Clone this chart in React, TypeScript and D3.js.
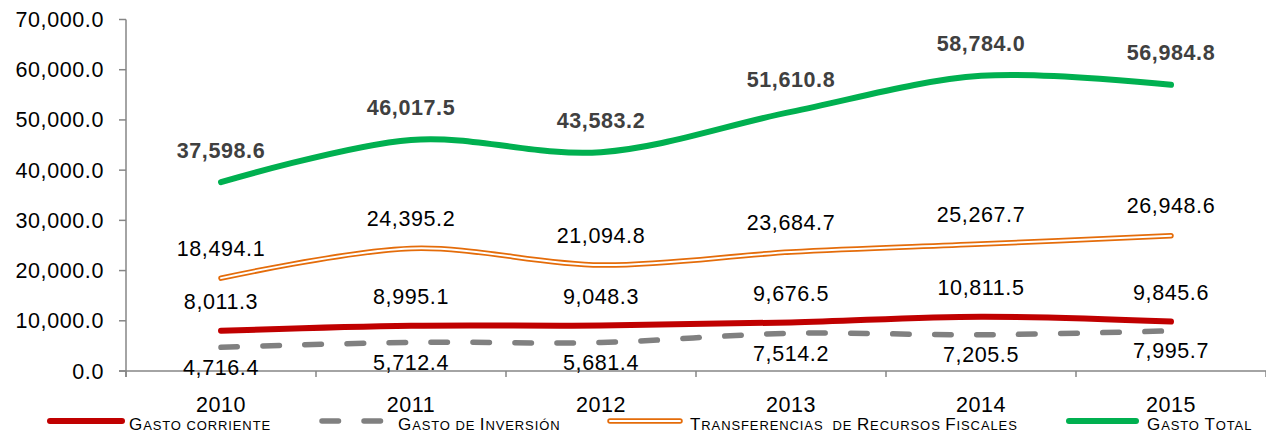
import React from 'react';
import * as d3 from 'd3';

const years = ['2010', '2011', '2012', '2013', '2014', '2015'];
const gastoCorriente = [8011.3, 8995.1, 9048.3, 9676.5, 10811.5, 9845.6];
const gastoInversion = [4716.4, 5712.4, 5681.4, 7514.2, 7205.5, 7995.7];
const transferencias = [18494.1, 24395.2, 21094.8, 23684.7, 25267.7, 26948.6];
const gastoTotal = [37598.6, 46017.5, 43583.2, 51610.8, 58784.0, 56984.8];
const yTicks = [0, 10000, 20000, 30000, 40000, 50000, 60000, 70000];

const W = 1266, H = 435;
const FONT = '"Liberation Sans", Arial, sans-serif';
const AXIS = '#868686';

const x = d3.scaleBand().domain(years).range([126, 1266]);
const cx = (yr: string) => (x(yr) as number) + x.bandwidth() / 2;
const y = d3.scaleLinear().domain([0, 70000]).range([371, 19.5]);
const fmt = d3.format(',.1f');

const line = d3.line<number>()
  .x((d, i) => cx(years[i]))
  .y(d => y(d))
  .curve(d3.curveCardinal.tension(0));

// small caps legend text, built from tspans
const SmallCaps = ({ text, x0, y0 }: { text: string; x0: number; y0: number }) => {
  const runs: { big: boolean; s: string }[] = [];
  for (const ch of text) {
    const big = ch !== ch.toLowerCase();
    const last = runs[runs.length - 1];
    if (last && last.big === big) last.s += ch.toUpperCase();
    else runs.push({ big, s: ch.toUpperCase() });
  }
  return (
    <text x={x0} y={y0} fontFamily={FONT} fill="#000" letterSpacing={0.9} style={{ whiteSpace: 'pre' }}>
      {runs.map((r, i) => (
        <tspan key={i} fontSize={r.big ? 17 : 13}>{r.s}</tspan>
      ))}
    </text>
  );
};

const App = () => {
  const boundaries = [...years.map(yr => x(yr) as number), 1266];
  return (
    <svg width={W} height={H} style={{ position: 'absolute', left: 0, top: 0, background: '#fff' }}>
      {/* axes */}
      <line x1={126} x2={126} y1={19.5} y2={377} stroke={AXIS} strokeWidth={1.5} />
      <line x1={119} x2={1266} y1={y(0)} y2={y(0)} stroke={AXIS} strokeWidth={1.5} />
      {yTicks.map(t => (
        <g key={t}>
          <line x1={119} x2={126} y1={y(t)} y2={y(t)} stroke={AXIS} strokeWidth={1.5} />
          <text x={104} y={y(t) + 7.5} textAnchor="end" fontFamily={FONT} fontSize={21.5}
            letterSpacing={0.6} fill="#000">{fmt(t)}</text>
        </g>
      ))}
      {boundaries.map((b, i) => (
        <line key={i} x1={b} x2={b} y1={y(0)} y2={377} stroke={AXIS} strokeWidth={1.5} />
      ))}
      {years.map(yr => (
        <text key={yr} x={cx(yr)} y={412} textAnchor="middle" fontFamily={FONT} fontSize={21.5}
          letterSpacing={0.6} fill="#000">{yr}</text>
      ))}

      {/* series */}
      <path d={line(gastoInversion) || ''} fill="none" stroke="#808080" strokeWidth={5.5}
        strokeDasharray="16.5,25.5" strokeLinecap="round" />
      <path d={line(gastoCorriente) || ''} fill="none" stroke="#C00000" strokeWidth={6} strokeLinecap="round" />
      <path d={line(transferencias) || ''} fill="none" stroke="#E46C0A" strokeWidth={5.5} strokeLinecap="round" />
      <path d={line(transferencias) || ''} fill="none" stroke="#fff" strokeWidth={2} strokeLinecap="round" />
      <path d={line(gastoTotal) || ''} fill="none" stroke="#00B050" strokeWidth={6} strokeLinecap="round" />

      {/* data labels */}
      {years.map((yr, i) => (
        <g key={yr} fontFamily={FONT} fontSize={21.5} letterSpacing={0.6} textAnchor="middle">
          <text x={cx(yr)} y={y(gastoCorriente[i]) - 29 + 7.5} fill="#000">{fmt(gastoCorriente[i])}</text>
          <text x={cx(yr)} y={y(gastoInversion[i]) + 20 + 7.5} fill="#000">{fmt(gastoInversion[i])}</text>
          <text x={cx(yr)} y={y(transferencias[i]) - 30 + 7.5} fill="#000">{fmt(transferencias[i])}</text>
          <text x={cx(yr)} y={y(gastoTotal[i]) - 32 + 7.5} fill="#404040" fontWeight="bold">{fmt(gastoTotal[i])}</text>
        </g>
      ))}

      {/* legend */}
      <line x1={50} x2={122} y1={421} y2={421} stroke="#C00000" strokeWidth={6} strokeLinecap="round" />
      <SmallCaps text="Gasto corriente" x0={129} y0={430} />
      <line x1={322} x2={383} y1={421} y2={421} stroke="#808080" strokeWidth={5.5}
        strokeDasharray="16.5,25.5" strokeLinecap="round" />
      <SmallCaps text="Gasto de Inversión" x0={398} y0={430} />
      <line x1={610} x2={680} y1={421} y2={421} stroke="#E46C0A" strokeWidth={5.5} strokeLinecap="round" />
      <line x1={610} x2={680} y1={421} y2={421} stroke="#fff" strokeWidth={2} strokeLinecap="round" />
      <SmallCaps text="Transferencias  de Recursos Fiscales" x0={690} y0={430} />
      <line x1={1069} x2={1136} y1={421} y2={421} stroke="#00B050" strokeWidth={6} strokeLinecap="round" />
      <SmallCaps text="Gasto Total" x0={1147} y0={430} />
    </svg>
  );
};

export default App;
